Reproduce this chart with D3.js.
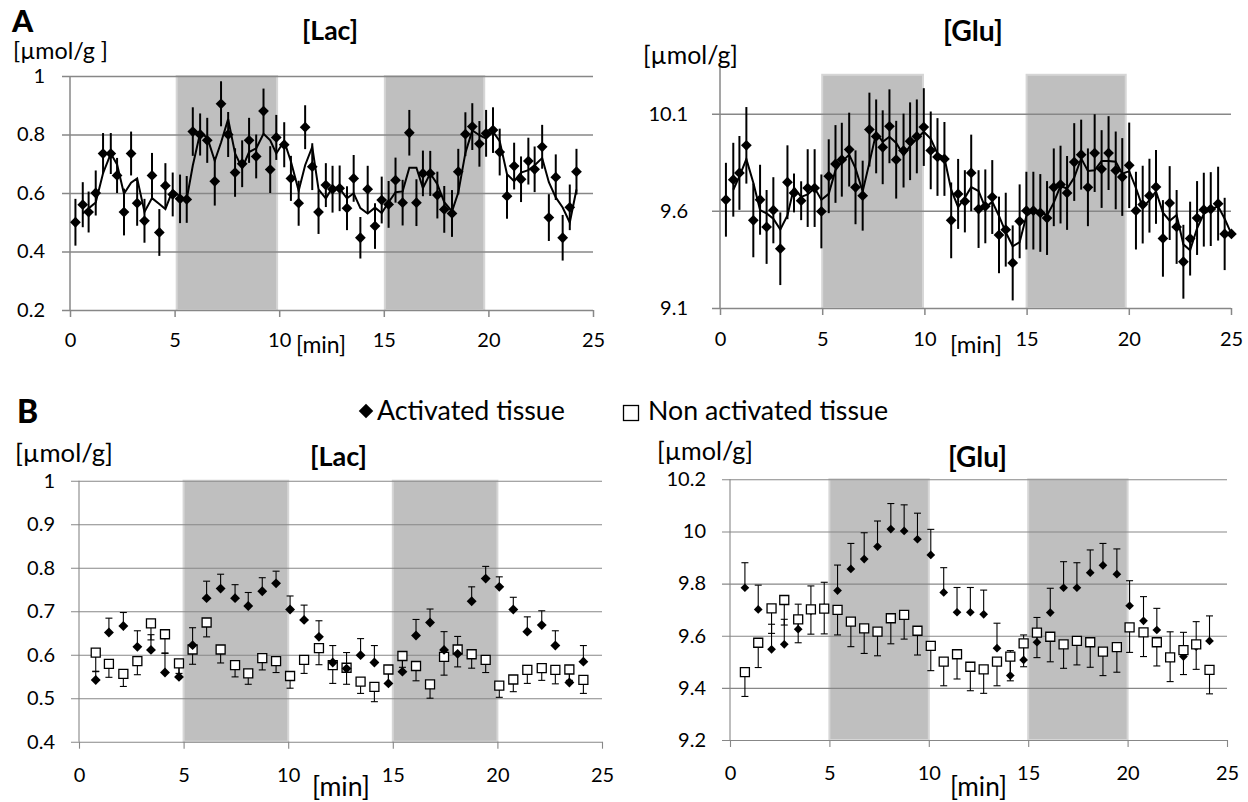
<!DOCTYPE html>
<html>
<head>
<meta charset="utf-8">
<script src="https://cdn.jsdelivr.net/npm/d3@7"></script>
<style>
  body { margin: 0; background: #fff; }
</style>
</head>
<body>
<div id="chart"></div>
<script>

// ---------- Panel A : single voxel time course, [Lac] ----------
const lacA_time = [0.26,0.61,0.89,1.23,1.58,1.95,2.25,2.58,2.92,3.21,3.56,3.92,4.27,4.56,4.91,5.26,5.58,5.87,6.22,6.56,
    6.92,7.22,7.56,7.89,8.23,8.56,8.90,9.25,9.57,9.86,10.24,10.56,10.93,11.24,11.58,11.88,12.23,12.55,12.89,13.24,
    13.56,13.88,14.23,14.58,14.90,15.23,15.56,15.90,16.22,16.56,16.87,17.22,17.56,17.89,18.26,18.56,18.90,19.23,19.57,19.89,
    20.22,20.54,20.89,21.23,21.56,21.91,22.21,22.57,22.89,23.22,23.55,23.89,24.21];
const lacA_val = [0.50,0.56,0.535,0.60,0.735,0.735,0.66,0.535,0.735,0.565,0.505,0.66,0.465,0.625,0.595,0.58,0.578,0.81,0.80,0.78,
    0.64,0.905,0.80,0.67,0.70,0.78,0.725,0.88,0.68,0.79,0.765,0.65,0.565,0.825,0.69,0.535,0.627,0.613,0.616,0.548,
    0.650,0.447,0.613,0.487,0.576,0.561,0.644,0.567,0.806,0.567,0.667,0.667,0.593,0.544,0.530,0.673,0.801,0.827,0.768,0.804,
    0.815,0.740,0.589,0.692,0.647,0.709,0.681,0.758,0.516,0.654,0.447,0.551,0.673];
const lacA_err = [0.08,0.077,0.07,0.077,0.07,0.07,0.06,0.08,0.075,0.077,0.075,0.077,0.08,0.077,0.075,0.083,0.08,0.083,0.072,0.077,
    0.083,0.077,0.077,0.083,0.08,0.077,0.075,0.077,0.08,0.077,0.077,0.077,0.077,0.075,0.08,0.075,0.075,0.08,0.078,0.075,
    0.08,0.071,0.08,0.078,0.08,0.08,0.077,0.078,0.078,0.08,0.078,0.077,0.08,0.08,0.08,0.078,0.075,0.08,0.078,0.08,
    0.078,0.08,0.077,0.08,0.078,0.08,0.078,0.075,0.08,0.078,0.078,0.078,0.078];

// ---------- Panel A : [Glu] ----------
const gluA_time = [0.29,0.65,0.95,1.29,1.63,1.96,2.28,2.61,2.95,3.30,3.62,3.97,4.29,4.63,4.96,5.32,5.65,5.96,6.32,6.63,
    6.98,7.31,7.64,7.96,8.29,8.62,8.98,9.30,9.63,9.97,10.31,10.64,10.98,11.31,11.65,11.98,12.29,12.65,12.98,13.32,
    13.65,13.98,14.32,14.66,14.99,15.33,15.67,16.00,16.33,16.66,16.98,17.33,17.67,18.00,18.33,18.67,19.01,19.36,19.68,20.02,
    20.35,20.68,21.01,21.33,21.67,22.00,22.34,22.67,23.00,23.34,23.67,24.01,24.37,24.69,25.02];
const gluA_val = [9.657,9.760,9.795,9.937,9.551,9.657,9.517,9.603,9.405,9.747,9.692,9.652,9.717,9.717,9.597,9.778,9.841,9.863,9.915,9.721,
    9.678,10.018,9.983,9.927,10.035,9.863,9.910,9.958,9.983,10.031,9.911,9.877,9.867,9.551,9.687,9.649,9.795,9.609,9.623,9.671,
    9.476,9.503,9.332,9.546,9.601,9.601,9.589,9.563,9.721,9.735,9.692,9.851,9.889,9.721,9.897,9.815,9.897,9.808,9.774,9.834,
    9.601,9.632,9.678,9.723,9.458,9.640,9.517,9.338,9.457,9.563,9.606,9.609,9.637,9.481,9.481];
const gluA_err = [0.19,0.19,0.19,0.197,0.19,0.18,0.19,0.17,0.187,0.19,0.1,0.1,0.2,0.2,0.19,0.19,0.2,0.19,0.19,0.19,
    0.18,0.19,0.19,0.19,0.19,0.2,0.19,0.2,0.19,0.2,0.2,0.2,0.19,0.195,0.18,0.16,0.197,0.2,0.19,0.19,
    0.197,0.19,0.193,0.19,0.2,0.2,0.2,0.19,0.2,0.2,0.19,0.2,0.18,0.2,0.2,0.2,0.19,0.2,0.2,0.22,
    0.2,0.2,0.19,0.19,0.197,0.19,0.19,0.19,0.19,0.19,0.19,0.19,0.19,0.186,0.02];

// ---------- Panel B : group average, [Lac] ----------
const lacB_time = [0.80,1.43,2.12,2.79,3.44,4.11,4.78,5.43,6.10,6.77,7.46,8.09,8.76,9.42,10.09,10.76,11.47,12.13,
    12.79,13.46,14.12,14.79,15.46,16.11,16.78,17.45,18.10,18.77,19.44,20.09,20.76,21.43,22.12,22.77,23.44,24.11];
const lacB_act = [0.542,0.651,0.666,0.618,0.611,0.559,0.549,0.622,0.730,0.752,0.730,0.712,0.746,0.764,0.704,0.680,0.641,0.582,
    0.568,0.599,0.582,0.534,0.561,0.644,0.674,0.611,0.602,0.723,0.775,0.756,0.704,0.653,0.668,0.621,0.536,0.584];
const lacB_actErr = [0.02,0.033,0.031,0.037,0.035,0.045,0.038,0.04,0.039,0.033,0.031,0.031,0.031,0.028,0.031,0.034,0.037,0.039,
    0.037,0.038,0.039,0.03,0.03,0.037,0.031,0.042,0.04,0.033,0.028,0.023,0.028,0.034,0.033,0.034,0.03,0.037];
const lacB_non = [0.605,0.579,0.556,0.585,0.672,0.647,0.580,0.612,0.674,0.612,0.576,0.557,0.592,0.585,0.551,0.588,0.615,0.576,
    0.570,0.538,0.526,0.566,0.597,0.574,0.532,0.595,0.612,0.601,0.588,0.529,0.543,0.565,0.569,0.565,0.566,0.542];
const lacB_nonErr = [0.044,0.031,0.029,0.031,0.038,0.044,0.023,0.034,0.033,0.031,0.027,0.025,0.027,0.026,0.028,0.031,0.038,0.042,
    0.038,0.027,0.034,0.03,0.026,0.034,0.032,0.042,0.04,0.032,0.029,0.027,0.028,0.031,0.028,0.032,0.025,0.031];

// ---------- Panel B : [Glu] ----------
const gluB_time = [0.75,1.42,2.09,2.73,3.43,4.07,4.74,5.41,6.08,6.75,7.42,8.09,8.76,9.43,10.10,10.75,11.42,12.09,
    12.76,13.43,14.10,14.77,15.44,16.11,16.78,17.45,18.12,18.76,19.46,20.10,20.80,21.47,22.14,22.81,23.45,24.12];
const gluB_act = [9.784,9.701,9.548,9.567,9.625,9.695,9.708,9.773,9.856,9.894,9.942,10.009,10.002,9.970,9.910,9.766,9.690,9.690,
    9.682,9.552,9.447,9.507,9.575,9.689,9.784,9.784,9.842,9.870,9.836,9.715,9.657,9.622,9.515,9.520,9.558,9.580];
const gluB_actErr = [0.096,0.093,0.096,0.096,0.096,0.096,0.097,0.098,0.098,0.101,0.098,0.098,0.100,0.100,0.098,0.095,0.095,0.095,
    0.093,0.096,0.096,0.096,0.095,0.093,0.1,0.096,0.087,0.084,0.097,0.096,0.093,0.083,0.1,0.093,0.096,0.096];
const gluB_non = [9.460,9.573,9.705,9.737,9.663,9.701,9.704,9.699,9.654,9.628,9.616,9.667,9.680,9.619,9.561,9.501,9.529,9.481,
    9.471,9.501,9.520,9.571,9.612,9.596,9.567,9.580,9.575,9.539,9.556,9.632,9.613,9.575,9.517,9.545,9.567,9.469];
const gluB_nonErr = [0.093,0.095,0.096,0.096,0.09,0.095,0.097,0.096,0.096,0.096,0.093,0.098,0.093,0.093,0.095,0.093,0.095,0.092,
    0.092,0.093,0.093,0.09,0.096,0.096,0.092,0.092,0.096,0.092,0.096,0.096,0.093,0.091,0.093,0.094,0.096,0.092];

// axis ticks and labels
const xTicks = [0, 5, 10, 15, 20, 25];
const lacA_ticks = [0.2, 0.4, 0.6, 0.8, 1];
const gluA_ticks = [9.1, 9.6, 10.1];
const lacB_ticks = [0.4, 0.5, 0.6, 0.7, 0.8, 0.9, 1];
const gluB_ticks = [9.2, 9.4, 9.6, 9.8, 10, 10.2];

// stimulation blocks (grey bands), as drawn
const stimLacA = [[5.1, 9.9], [15.05, 19.8]];
const stimGluA = [[5.0, 9.93], [15.0, 19.85]];
const stimB = [[5, 10], [15, 20]];

const FONT = "Lato, 'Open Sans', sans-serif";
const GRID = "#878787";

const svg = d3.select("#chart").append("svg")
    .attr("width", 1248)
    .attr("height", 802)
    .style("background", "#fff")
    .attr("font-family", FONT);

// scale font-size so that a label takes the width it has in the figure
function fitText(sel, width) {
    let w = sel.node().getComputedTextLength();
    let fs = parseFloat(sel.attr("font-size"));
    sel.attr("font-size", (fs * width / w).toFixed(2));
    return sel;
}

function label(txt, x, y, size, width, bold) {
    let t = svg.append("text")
        .attr("x", x).attr("y", y)
        .attr("font-size", size)
        .attr("font-weight", bold ? 700 : 400)
        .attr("fill", "#000")
        .text(txt);
    if (width) fitText(t, width);
    return t;
}

function basePanel(p) {
    let x = d3.scaleLinear().domain([0, 25]).range([p.left, p.right]);
    let y = d3.scaleLinear().domain(p.yDomain).range([p.bottom, p.top]);
    let g = svg.append("g");

    g.selectAll("rect.stim").data(p.stim).join("rect")
        .attr("class", "stim")
        .attr("x", d => x(d[0]))
        .attr("y", y(p.shadeTop))
        .attr("width", d => x(d[1]) - x(d[0]))
        .attr("height", p.bottom - y(p.shadeTop))
        .attr("fill", "#bfbfbf")
        .attr("stroke", "#d6d6d6")
        .attr("stroke-width", 2);

    // gridlines + y tick labels
    let yAxis = g.append("g")
        .attr("transform", `translate(${p.left - 8},0)`)
        .call(d3.axisLeft(y)
            .tickValues(p.yTicks)
            .tickFormat(d => String(d))
            .tickSize(-(p.right - p.left + 8))
            .tickPadding(p.yPad));
    yAxis.attr("font-family", FONT).attr("font-size", 20);
    yAxis.select(".domain").remove();
    yAxis.selectAll(".tick line").attr("stroke", GRID).attr("stroke-width", p.gridW);
    yAxis.selectAll(".tick text").attr("fill", "#000");

    let xAxis = g.append("g")
        .attr("transform", `translate(0,${p.bottom})`)
        .call(d3.axisBottom(x)
            .tickValues(xTicks)
            .tickSize(7)
            .tickSizeOuter(0)
            .tickPadding(p.xPad));
    xAxis.attr("font-family", FONT).attr("font-size", 20);
    xAxis.select(".domain").remove();
    xAxis.selectAll(".tick line").attr("stroke", GRID).attr("stroke-width", p.gridW);
    xAxis.selectAll(".tick text").attr("fill", "#000");

    // vertical value axis
    g.append("line")
        .attr("x1", p.left).attr("x2", p.left)
        .attr("y1", p.axisTop).attr("y2", p.bottom)
        .attr("stroke", GRID).attr("stroke-width", p.gridW);

    return {g, x, y};
}

function panelA(p, time, val, err) {
    let {g, x, y} = basePanel(p);
    let pts = time.map((t, i) => ({t: t, v: val[i], e: err[i]}));

    g.selectAll("line.err").data(pts).join("line")
        .attr("class", "err")
        .attr("x1", d => x(d.t)).attr("x2", d => x(d.t))
        .attr("y1", d => y(d.v - d.e)).attr("y2", d => y(d.v + d.e))
        .attr("stroke", "#000").attr("stroke-width", 2);

    // Excel moving-average trendline (period 2)
    let avg = pts.slice(1).map((d, i) => ({t: d.t, v: (d.v + pts[i].v) / 2}));
    g.append("path").datum(avg)
        .attr("d", d3.line().x(d => x(d.t)).y(d => y(d.v)))
        .attr("fill", "none").attr("stroke", "#000").attr("stroke-width", 2);

    g.selectAll("path.pt").data(pts).join("path")
        .attr("class", "pt")
        .attr("d", d3.symbol(d3.symbolSquare, 58))
        .attr("transform", d => `translate(${x(d.t)},${y(d.v)}) rotate(45)`)
        .attr("fill", "#000");
}

function errCaps(g, x, y, pts, dir) {
    let eg = g.append("g").attr("stroke", "#000").attr("stroke-width", 1.1);
    eg.selectAll("line.bar").data(pts).join("line")
        .attr("x1", d => x(d.t)).attr("x2", d => x(d.t))
        .attr("y1", d => y(d.v)).attr("y2", d => y(d.v + dir * d.e));
    eg.selectAll("line.cap").data(pts).join("line")
        .attr("x1", d => x(d.t) - 3.5).attr("x2", d => x(d.t) + 3.5)
        .attr("y1", d => y(d.v + dir * d.e)).attr("y2", d => y(d.v + dir * d.e));
}

function panelB(p, time, act, actErr, non, nonErr) {
    let {g, x, y} = basePanel(p);
    let a = time.map((t, i) => ({t: t, v: act[i], e: actErr[i]}));
    let n = time.map((t, i) => ({t: t, v: non[i], e: nonErr[i]}));

    errCaps(g, x, y, n, -1);
    errCaps(g, x, y, a, 1);

    let drawAct = () => g.append("g").selectAll("path").data(a).join("path")
        .attr("d", d3.symbol(d3.symbolSquare, p.diamond))
        .attr("transform", d => `translate(${x(d.t)},${y(d.v)}) rotate(45)`)
        .attr("fill", "#000");
    let drawNon = () => g.append("g").selectAll("path").data(n).join("path")
        .attr("d", d3.symbol(d3.symbolSquare, 81))
        .attr("transform", d => `translate(${x(d.t)},${y(d.v)})`)
        .attr("fill", "#fff").attr("stroke", "#000").attr("stroke-width", 1.3);

    if (p.squaresOnTop) { drawAct(); drawNon(); }
    else { drawNon(); drawAct(); }
}

panelA({left: 70, right: 593, top: 76, bottom: 310, axisTop: 76, yDomain: [0.2, 1], shadeTop: 1,
        yTicks: lacA_ticks, stim: stimLacA, yPad: 17, xPad: 16, gridW: 1.5},
       lacA_time, lacA_val, lacA_err);

panelA({left: 720, right: 1231, top: 67, bottom: 308, axisTop: 67, yDomain: [9.1, 10.34], shadeTop: 10.3,
        yTicks: gluA_ticks, stim: stimGluA, yPad: 24, xPad: 17, gridW: 1.5},
       gluA_time, gluA_val, gluA_err);

panelB({left: 79, right: 602, top: 480.7, bottom: 741.7, axisTop: 480.7, yDomain: [0.4, 1], shadeTop: 1,
        yTicks: lacB_ticks, stim: stimB, yPad: 16, xPad: 19, gridW: 1.1, diamond: 49, squaresOnTop: false},
       lacB_time, lacB_act, lacB_actErr, lacB_non, lacB_nonErr);

panelB({left: 730, right: 1227, top: 479.3, bottom: 740, axisTop: 479.3, yDomain: [9.2, 10.2], shadeTop: 10.2,
        yTicks: gluB_ticks, stim: stimB, yPad: 16, xPad: 19, gridW: 1.1, diamond: 38, squaresOnTop: true},
       gluB_time, gluB_act, gluB_actErr, gluB_non, gluB_nonErr);

// panel letters, titles, units
label("A", 12, 32, 30, 21, true).attr("font-weight", 900);
label("B", 17, 423, 32, 21, true).attr("font-weight", 900);

label("[Lac]", 302, 40, 22, 56, true);
label("[Glu]", 943, 41, 22, 60, true);
label("[Lac]", 310, 466, 22, 57, true);
label("[Glu]", 948, 467, 22, 59, true);

label("[µmol/g ]", 13, 58.5, 20, 95);
label("[µmol/g]", 643, 64, 22, 95);
label("[µmol/g]", 15, 462, 22, 98);
label("[µmol/g]", 657, 460, 22, 96);

label("[min]", 296, 353, 20, 50);
label("[min]", 950, 353, 20, 52);
label("[min]", 312, 796, 20, 58);
label("[min]", 950, 796, 20, 57);

// legend
svg.append("path")
    .attr("d", d3.symbol(d3.symbolSquare, 105))
    .attr("transform", "translate(366,411) rotate(45)")
    .attr("fill", "#000");
label("Activated tissue", 377, 420, 22, 188);
svg.append("rect")
    .attr("x", 623.5).attr("y", 405.5).attr("width", 15).attr("height", 15)
    .attr("fill", "#fff").attr("stroke", "#000").attr("stroke-width", 1.3);
label("Non activated tissue", 648, 420, 22, 240);

</script>
</body>
</html>
